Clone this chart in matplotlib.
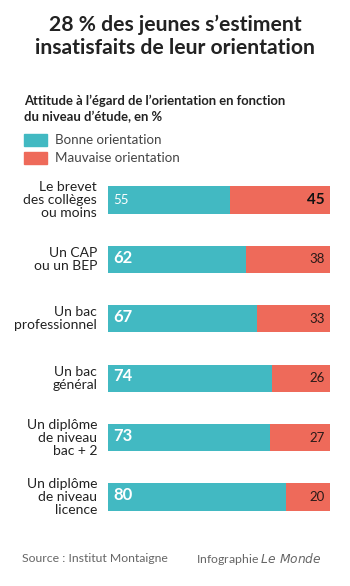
import matplotlib
matplotlib.use("Agg")
import matplotlib.pyplot as plt
from matplotlib.patches import Rectangle

plt.rcParams["font.family"] = ["Lato", "DejaVu Sans"]

categories = [
    "Le brevet\ndes collèges\nou moins",
    "Un CAP\nou un BEP",
    "Un bac\nprofessionnel",
    "Un bac\ngénéral",
    "Un diplôme\nde niveau\nbac + 2",
    "Un diplôme\nde niveau\nlicence",
]
bonne = [55, 62, 67, 74, 73, 80]
mauvaise = [45, 38, 33, 26, 27, 20]
series_names = ["Bonne orientation", "Mauvaise orientation"]

TEAL = "#42B9C2"
RED = "#EE6A5A"
W, H = 350, 586

fig = plt.figure(figsize=(W / 100, H / 100), dpi=100)
fig.patch.set_facecolor("white")


def fx(px):
    return px / W


def fy(py):
    return 1 - py / H


# title
fig.text(0.5, fy(25), "28 % des jeunes s’estiment", ha="center", va="center",
         fontsize=15.2, fontweight="bold", color="#222222")
fig.text(0.5, fy(48), "insatisfaits de leur orientation", ha="center", va="center",
         fontsize=15.2, fontweight="bold", color="#222222")

# subtitle
fig.text(fx(24), fy(101), "Attitude à l’égard de l’orientation en fonction", ha="left", va="center",
         fontsize=9.4, fontweight="bold", color="#222222")
fig.text(fx(24), fy(117), "du niveau d’étude, en %", ha="left", va="center",
         fontsize=9.4, fontweight="bold", color="#222222")

# legend
for i, (name, col) in enumerate(zip(series_names, [TEAL, RED])):
    yc = 140 + i * 18
    fig.patches.append(Rectangle((fx(24), fy(yc + 6)), fx(23), 12 / H, color=col,
                                 transform=fig.transFigure, figure=fig))
    fig.text(fx(55), fy(yc), name, ha="left", va="center", fontsize=9.6, color="#444444")

# bars
top_px, bot_px = 170.3, 526.7
ax = fig.add_axes([fx(108), fy(bot_px), fx(330) - fx(108), (bot_px - top_px) / H])
ys = list(range(len(categories)))
ax.barh(ys, bonne, height=0.455, color=TEAL, linewidth=0)
ax.barh(ys, mauvaise, left=bonne, height=0.455, color=RED, linewidth=0)
ax.set_xlim(0, 100)
ax.set_ylim(len(categories) - 0.5, -0.5)
ax.axis("off")

for i, (b, m) in enumerate(zip(bonne, mauvaise)):
    if i == 0:
        ax.text(2.5, i, str(b), ha="left", va="center", fontsize=9.5, color="white")
        ax.text(97.5, i, str(m), ha="right", va="center", fontsize=11, fontweight="bold",
                color="#111111")
    else:
        ax.text(2.5, i - 0.03, str(b), ha="left", va="center", fontsize=12, fontweight="bold",
                color="white")
        ax.text(97.5, i, str(m), ha="right", va="center", fontsize=9.5, color="#2a1a18")
    ax.text(-4.9, i, categories[i], ha="right", va="center", fontsize=10, color="#222222",
            linespacing=1.1)

# footer
fig.text(fx(22), fy(559), "Source : Institut Montaigne", ha="left", va="center",
         fontsize=8.8, color="#666666")
fig.text(fx(322), fy(559), "Infographie $\\it{Le\\ Monde}$", ha="right", va="center",
         fontsize=8.8, color="#666666")

fig.savefig("out.png", dpi=100, facecolor="white")
